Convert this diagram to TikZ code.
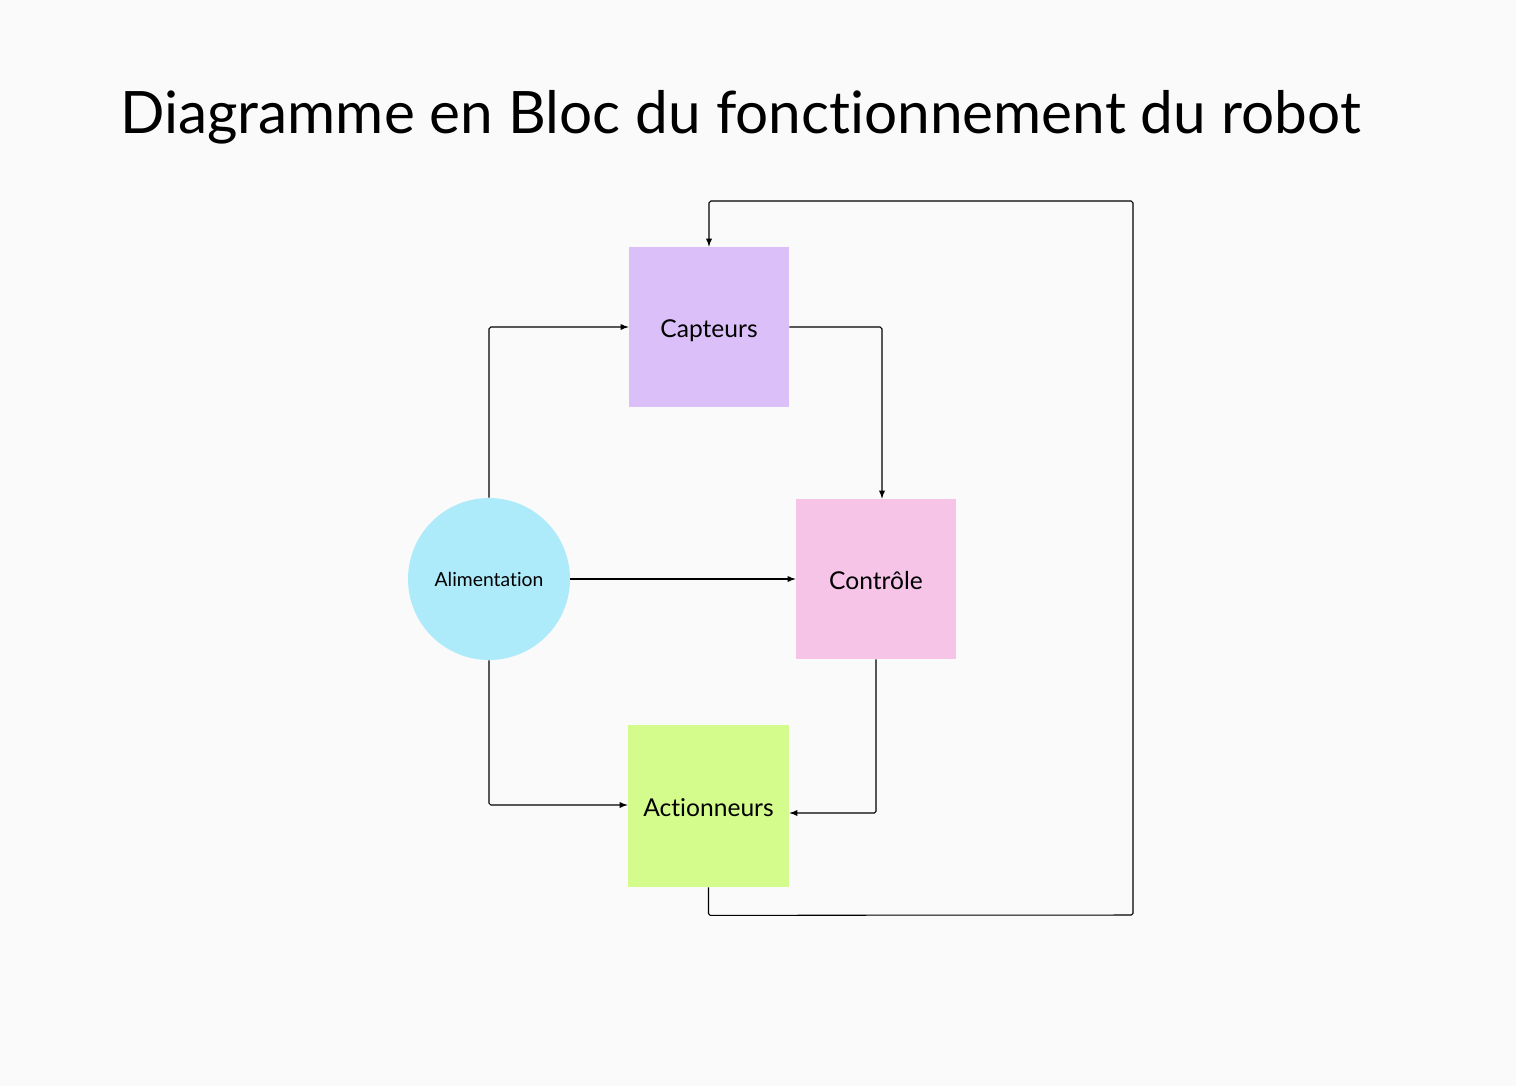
\documentclass[tikz,border=0pt]{standalone}
\usepackage{fontspec}
\setmainfont{Lato}[Ligatures={NoCommon}]
\usetikzlibrary{calc, positioning}
\definecolor{fond}{HTML}{FAFAFA}
\definecolor{violet}{HTML}{DBBFF8}
\definecolor{rose}{HTML}{F5C4E6}
\definecolor{vert}{HTML}{D4FC8C}
\definecolor{ciel}{HTML}{AEEBFA}
\tikzset{
  bloc/.style={rectangle, minimum size=3.2cm, inner sep=0pt, text height=12.5pt, text depth=0.4pt, font=\fontsize{14}{16}\selectfont},
  lien/.style={->, line width=0.6pt, rounded corners=1pt}
}

\begin{document}
\begin{tikzpicture}[>=latex, x=0.02cm, y=-0.02cm]
  \fill [fond] (0,0) rectangle (1516,1086);
  \useasboundingbox (0,0) rectangle (1516,1086);
  \node at (120,133) [anchor=base west, inner sep=0pt, font=\fontsize{33.3}{40}\selectfont] {Diagramme en Bloc du fonctionnement du robot};
  \node (capteurs) at (709,327) [bloc, fill=violet] {Capteurs};
  \node (controle) at (876,579) [bloc, fill=rose] {Contrôle};
  \node (action) at (708.5,806) [bloc, fill=vert, minimum width=3.22cm, minimum height=3.24cm] {Actionneurs};
  \node (alim) at (489,579) [circle, fill=ciel, minimum size=3.24cm, inner sep=0pt, font=\fontsize{11}{13}\selectfont] {Alimentation};
  \draw [lien] (alim.north) |- (capteurs.west);
  \draw [lien] (capteurs.east) -| ($(controle.north)+(6,0)$);
  \draw [lien] (alim.east) -- (controle.west);
  \draw [lien] (alim.south) |- ($(action.west)+(0,-1)$);
  \draw [lien] (controle.south) |- ($(action.east)+(0,7)$);
  \draw [lien] (action.south) -- ++(0,28) -- (1133,915) -- (1133,201) -- (709,201) -- (capteurs.north);
\end{tikzpicture}
\end{document}
